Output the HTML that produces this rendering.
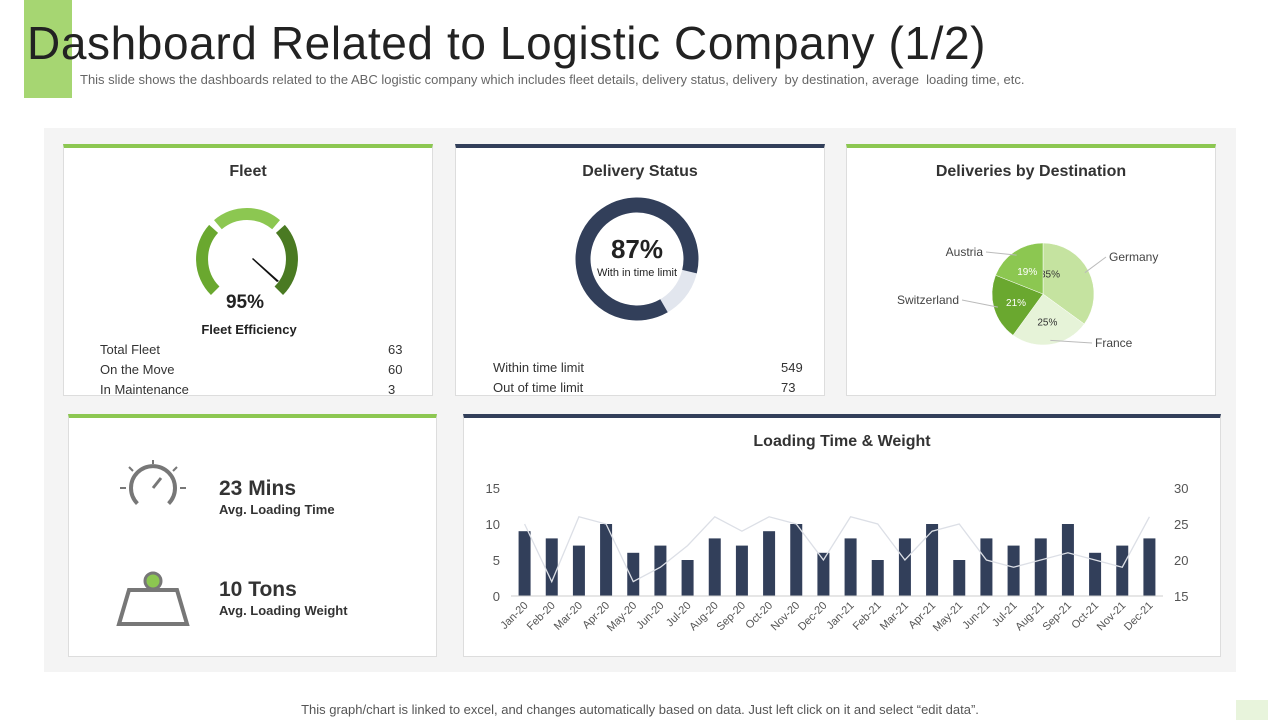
<!DOCTYPE html>
<html><head><meta charset="utf-8"><style>
body{margin:0;width:1280px;height:720px;background:#fff;font-family:"Liberation Sans",sans-serif;position:relative;overflow:hidden;color:#222}
.abs{position:absolute}
.card{position:absolute;background:#fff;border:1px solid #ddd;box-sizing:border-box}
.ttl{position:absolute;width:100%;text-align:center;font-weight:bold;font-size:16px;color:#333}
.row{position:absolute;font-size:13px;color:#333}
</style></head><body>
<div class="abs" style="left:24px;top:0;width:48px;height:98px;background:#a6d672"></div>
<div class="abs" style="left:27px;top:16px;font-size:46px;letter-spacing:0.6px;color:#222;white-space:nowrap">Dashboard Related to Logistic Company (1/2)</div>
<div class="abs" style="left:80px;top:72px;font-size:13px;color:#666;white-space:nowrap">This slide shows the dashboards related to the ABC logistic company which includes fleet details, delivery status, delivery &nbsp;by destination, average &nbsp;loading time, etc.</div>
<div class="abs" style="left:44px;top:128px;width:1192px;height:544px;background:#f4f4f4"></div>

<div class="card" style="left:63px;top:144px;width:370px;height:252px;border-top:4px solid #8cc751">
<div class="ttl" style="top:15px">Fleet</div>
<svg class="abs" style="left:0;top:0" width="370" height="250">
<g transform="translate(183,111)" fill="none" stroke-width="12">
<path d="M-31.8,31.8 A45,45 0 0 1 -33.4,-30.1" stroke="#6aa82f"/>
<path d="M-29.1,-34.3 A45,45 0 0 1 29.1,-34.3" stroke="#8cc751"/>
<path d="M33.4,-30.1 A45,45 0 0 1 31.8,31.8" stroke="#4a7a22"/>
<polygon points="5,0 6,-1 32,22 30,23" fill="#111"/>
</g></svg>
<div class="abs" style="left:0;width:362px;text-align:center;top:144px;font-size:19px;font-weight:bold">95%</div>
<div class="abs" style="left:0;width:370px;text-align:center;top:174px;font-size:13px;font-weight:bold">Fleet Efficiency</div>
<div class="row" style="left:36px;top:194px">Total Fleet</div><div class="row" style="left:324px;top:194px">63</div>
<div class="row" style="left:36px;top:214px">On the Move</div><div class="row" style="left:324px;top:214px">60</div>
<div class="row" style="left:36px;top:234px">In Maintenance</div><div class="row" style="left:324px;top:234px">3</div>
</div>

<div class="card" style="left:455px;top:144px;width:370px;height:252px;border-top:4px solid #323f5a">
<div class="ttl" style="top:15px">Delivery Status</div>
<svg class="abs" style="left:0;top:0" width="370" height="250">
<g transform="translate(181,111)" fill="none" stroke-width="15">
<circle r="54" stroke="#e2e6ee"/>
<circle r="54" stroke="#323f5a" stroke-dasharray="295.2 44.1" transform="rotate(60)"/>
</g></svg>
<div class="abs" style="left:0;width:362px;text-align:center;top:86px;font-size:26px;font-weight:bold">87%</div>
<div class="abs" style="left:0;width:362px;text-align:center;top:119px;font-size:11px">With in time limit</div>
<div class="row" style="left:37px;top:212px">Within time limit</div><div class="row" style="left:325px;top:212px">549</div>
<div class="row" style="left:37px;top:232px">Out of time limit</div><div class="row" style="left:325px;top:232px">73</div>
</div>

<div class="card" style="left:846px;top:144px;width:370px;height:252px;border-top:4px solid #8cc751">
<div class="ttl" style="top:15px">Deliveries by Destination</div>
<svg class="abs" style="left:0;top:0" width="370" height="250" id="pie" font-family="Liberation Sans" font-size="12"></svg>
</div>

<div class="card" style="left:68px;top:414px;width:369px;height:243px;border-top:4px solid #8cc751">
<svg class="abs" style="left:48px;top:40px" width="72" height="60">
<path d="M20.4,45.6 A22,22 0 1 1 51.6,45.6" fill="none" stroke="#777" stroke-width="4"/>
<line x1="36" y1="30" x2="44" y2="20" stroke="#777" stroke-width="3"/>
<line x1="3" y1="30" x2="9" y2="30" stroke="#777" stroke-width="2"/><line x1="63" y1="30" x2="69" y2="30" stroke="#777" stroke-width="2"/>
<line x1="12" y1="9" x2="16" y2="13" stroke="#777" stroke-width="2"/><line x1="60" y1="9" x2="56" y2="13" stroke="#777" stroke-width="2"/>
<line x1="36" y1="2" x2="36" y2="6" stroke="#777" stroke-width="2"/>
</svg>
<div class="abs" style="left:150px;top:59px;font-size:21px;font-weight:bold;color:#333">23 Mins</div>
<div class="abs" style="left:150px;top:84px;font-size:13px;font-weight:bold;color:#333">Avg. Loading Time</div>
<svg class="abs" style="left:44px;top:150px" width="80" height="60">
<circle cx="40" cy="13" r="8" fill="#8cc751" stroke="#777" stroke-width="3"/>
<path d="M16,22 L64,22 L74,56 L6,56 Z" fill="none" stroke="#777" stroke-width="4"/>
</svg>
<div class="abs" style="left:150px;top:160px;font-size:21px;font-weight:bold;color:#333">10 Tons</div>
<div class="abs" style="left:150px;top:185px;font-size:13px;font-weight:bold;color:#333">Avg. Loading Weight</div>
</div>

<div class="card" style="left:463px;top:414px;width:758px;height:243px;border-top:4px solid #323f5a">
<div class="ttl" style="top:15px">Loading Time &amp; Weight</div>
</div>
<svg class="abs" style="left:0;top:0" width="1280" height="720" id="bar" font-family="Liberation Sans"></svg>

<div class="abs" style="left:0;width:1280px;text-align:center;top:702px;font-size:13px;color:#555">This graph/chart is linked to excel, and changes automatically based on data. Just left click on it and select “edit data”.</div>
<div class="abs" style="left:1236px;top:700px;width:32px;height:20px;background:#e8f4dc"></div>

<script>
const months=["Jan-20","Feb-20","Mar-20","Apr-20","May-20","Jun-20","Jul-20","Aug-20","Sep-20","Oct-20","Nov-20","Dec-20","Jan-21","Feb-21","Mar-21","Apr-21","May-21","Jun-21","Jul-21","Aug-21","Sep-21","Oct-21","Nov-21","Dec-21"];
const weights=[9,8,7,10,6,7,5,8,7,9,10,6,8,5,8,10,5,8,7,8,10,6,7,8];
const times=[25,17,26,25,17,19,22,26,24,26,25,20,26,25,20,24,25,20,19,20,21,20,19,26];
const leftTicks=[0,5,10,15];
const rightTicks=[15,20,25,30];
const pieLabels=["Germany","France","Switzerland","Austria"];
const pieValues=[35,25,21,19];
const NS="http://www.w3.org/2000/svg";
function mk(p,t,a){const e=document.createElementNS(NS,t);for(const k in a)e.setAttribute(k,a[k]);p.appendChild(e);return e;}
const svg=document.getElementById('bar');
const x0=511,x1=1163,yB=596,yT=488;
const step=(x1-x0)/months.length;
const xc=i=>x0+step*(i+0.5);
const yL=v=>yB-(v-0)/(15-0)*(yB-yT);
const yR=v=>yB-(v-15)/(30-15)*(yB-yT);
leftTicks.forEach(t=>{const e=mk(svg,'text',{x:500,y:yL(t)+5,'text-anchor':'end','font-size':13,fill:'#555'});e.textContent=t;

});
rightTicks.forEach(t=>{const e=mk(svg,'text',{x:1174,y:yR(t)+5,'font-size':13,fill:'#555'});e.textContent=t;

});
weights.forEach((v,i)=>{const r=mk(svg,'rect',{x:xc(i)-6,y:yL(v),width:12,height:yB-yL(v),fill:'#323f5a'});

});
const ax=mk(svg,'line',{x1:x0,x2:x1,y1:yB,y2:yB,stroke:'#ccc'});


const pl=mk(svg,'polyline',{points:times.map((v,i)=>xc(i)+','+yR(v)).join(' '),fill:'none',stroke:'#dcdfe6','stroke-width':1.3});


months.forEach((m,i)=>{const e=mk(svg,'text',{x:xc(i)+4,y:yB+10,'text-anchor':'end','font-size':11,fill:'#555',transform:`rotate(-45 ${xc(i)+4} ${yB+10})`});e.textContent=m;

});
// pie
const ps=document.getElementById('pie');
const cx=196,cy=146,R=51;
const cols=["#c5e3a0","#e6f3d8","#6aa82f","#8cc751"];
const tot=pieValues.reduce((a,b)=>a+b,0);
let a=0;
const txtCol=["#333","#333","#fff","#fff"];
const labPos=[[262,113,'start'],[248,199,'start'],[112,156,'end'],[136,108,'end']];
pieValues.forEach((v,i)=>{const a0=a,a1=a+v/tot*2*Math.PI;a=a1;
const p=ang=>[cx+R*Math.sin(ang),cy-R*Math.cos(ang)];
const [sx,sy]=p(a0),[ex,ey]=p(a1);
const s=mk(ps,'path',{d:`M${cx},${cy} L${sx},${sy} A${R},${R} 0 ${a1-a0>Math.PI?1:0} 1 ${ex},${ey} Z`,fill:cols[i],stroke:'#fff','stroke-width':0.5});


const m=(a0+a1)/2;
const pt=mk(ps,'text',{x:cx+R*0.55*Math.sin(m)-(i==0?18:0),y:cy-R*0.55*Math.cos(m)+4+(i==0?-8:0),'text-anchor':'middle','font-size':10,fill:txtCol[i]});pt.textContent=v+'%';


const [ox,oy]=[cx+(R-4)*Math.sin(m),cy-(R-4)*Math.cos(m)];
const L=labPos[i];
const ln=mk(ps,'polyline',{points:`${ox},${oy} ${L[2]=='start'?L[0]-3:L[0]+3},${L[1]-4}`,fill:'none',stroke:'#bbb'});


const lt=mk(ps,'text',{x:L[0],y:L[1],'text-anchor':L[2],fill:'#444'});lt.textContent=pieLabels[i];

});
</script>
</body></html>
